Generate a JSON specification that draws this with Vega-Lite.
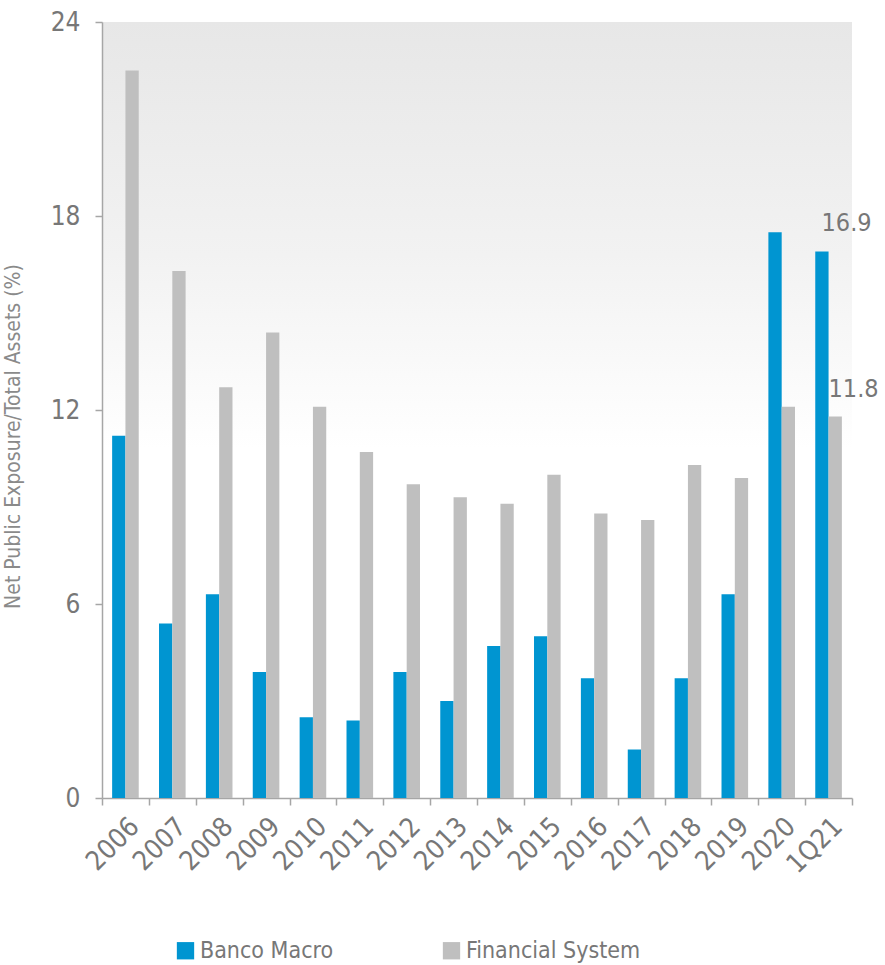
{
  "$schema": "https://vega.github.io/schema/vega-lite/v6.json",
  "width": 750,
  "height": 776,
  "autosize": "none",
  "padding": {"left": 102, "top": 22, "right": 33, "bottom": 167},
  "background": "#ffffff",
  "config": {
    "font": "DejaVu Sans Condensed",
    "view": {
      "stroke": null,
      "fill": {
        "gradient": "linear",
        "x1": 0, "y1": 0, "x2": 0, "y2": 1,
        "stops": [
          {"offset": 0, "color": "#e7e7e7"},
          {"offset": 0.3, "color": "#f2f2f2"},
          {"offset": 0.55, "color": "#ffffff"},
          {"offset": 1, "color": "#ffffff"}
        ]
      }
    }
  },
  "data": {
    "values": [
      {"period": "2006", "series": "Banco Macro", "value": 11.2},
      {"period": "2007", "series": "Banco Macro", "value": 5.4},
      {"period": "2008", "series": "Banco Macro", "value": 6.3},
      {"period": "2009", "series": "Banco Macro", "value": 3.9},
      {"period": "2010", "series": "Banco Macro", "value": 2.5},
      {"period": "2011", "series": "Banco Macro", "value": 2.4},
      {"period": "2012", "series": "Banco Macro", "value": 3.9},
      {"period": "2013", "series": "Banco Macro", "value": 3.0},
      {"period": "2014", "series": "Banco Macro", "value": 4.7},
      {"period": "2015", "series": "Banco Macro", "value": 5.0},
      {"period": "2016", "series": "Banco Macro", "value": 3.7},
      {"period": "2017", "series": "Banco Macro", "value": 1.5},
      {"period": "2018", "series": "Banco Macro", "value": 3.7},
      {"period": "2019", "series": "Banco Macro", "value": 6.3},
      {"period": "2020", "series": "Banco Macro", "value": 17.5},
      {"period": "1Q21", "series": "Banco Macro", "value": 16.9},
      {"period": "2006", "series": "Financial System", "value": 22.5},
      {"period": "2007", "series": "Financial System", "value": 16.3},
      {"period": "2008", "series": "Financial System", "value": 12.7},
      {"period": "2009", "series": "Financial System", "value": 14.4},
      {"period": "2010", "series": "Financial System", "value": 12.1},
      {"period": "2011", "series": "Financial System", "value": 10.7},
      {"period": "2012", "series": "Financial System", "value": 9.7},
      {"period": "2013", "series": "Financial System", "value": 9.3},
      {"period": "2014", "series": "Financial System", "value": 9.1},
      {"period": "2015", "series": "Financial System", "value": 10.0},
      {"period": "2016", "series": "Financial System", "value": 8.8},
      {"period": "2017", "series": "Financial System", "value": 8.6},
      {"period": "2018", "series": "Financial System", "value": 10.3},
      {"period": "2019", "series": "Financial System", "value": 9.9},
      {"period": "2020", "series": "Financial System", "value": 12.1},
      {"period": "1Q21", "series": "Financial System", "value": 11.8}
    ]
  },
  "encoding": {
    "x": {
      "field": "period",
      "type": "nominal",
      "sort": null,
      "scale": {"paddingInner": 0, "paddingOuter": 0},
      "axis": {
        "title": null,
        "labelAngle": -45,
        "labelFontSize": 27,
        "labelColor": "#777777",
        "labelPadding": 8,
        "tickBand": "extent",
        "tickSize": 7,
        "tickColor": "#a6a6a6",
        "tickWidth": 1.5,
        "domainColor": "#a6a6a6",
        "domainWidth": 1.5
      }
    },
    "y": {
      "field": "value",
      "type": "quantitative",
      "scale": {"domain": [0, 24], "nice": false},
      "axis": {
        "values": [0, 6, 12, 18, 24],
        "grid": false,
        "title": "Net Public Exposure/Total Assets (%)",
        "titleFontSize": 21,
        "titleFontWeight": "normal",
        "titleColor": "#8a8a8a",
        "titleX": -79,
        "titleY": 414,
        "labelFontSize": 26,
        "labelColor": "#777777",
        "labelPadding": 15,
        "tickSize": 7,
        "tickColor": "#a6a6a6",
        "tickWidth": 1.5,
        "domainColor": "#a6a6a6",
        "domainWidth": 1.5
      }
    }
  },
  "layer": [
    {
      "mark": {"type": "bar"},
      "encoding": {
        "xOffset": {
          "field": "series",
          "type": "nominal",
          "scale": {"paddingInner": 0, "paddingOuter": 0.762}
        },
        "color": {
          "field": "series",
          "type": "nominal",
          "scale": {"domain": ["Banco Macro", "Financial System"], "range": ["#0095d1", "#bfbfbf"]},
          "legend": {
            "title": null,
            "orient": "none",
            "direction": "horizontal",
            "legendX": 72,
            "legendY": 917,
            "symbolType": "square",
            "symbolSize": 300,
            "symbolStrokeWidth": 0,
            "labelFontSize": 23,
            "labelLimit": 400,
            "labelColor": "#777777",
            "labelOffset": 3,
            "columnPadding": 106
          }
        }
      }
    },
    {
      "transform": [{"filter": "datum.period == '1Q21' && datum.series == 'Banco Macro'"}],
      "mark": {"type": "text", "align": "left", "baseline": "middle", "dx": -7, "dy": -29, "fontSize": 25, "color": "#777777"},
      "encoding": {"text": {"field": "value", "type": "quantitative", "format": ".1f"}}
    },
    {
      "transform": [{"filter": "datum.period == '1Q21' && datum.series == 'Financial System'"}],
      "mark": {"type": "text", "align": "left", "baseline": "middle", "dx": 0, "dy": -27, "fontSize": 25, "color": "#777777"},
      "encoding": {"text": {"field": "value", "type": "quantitative", "format": ".1f"}}
    }
  ]
}
